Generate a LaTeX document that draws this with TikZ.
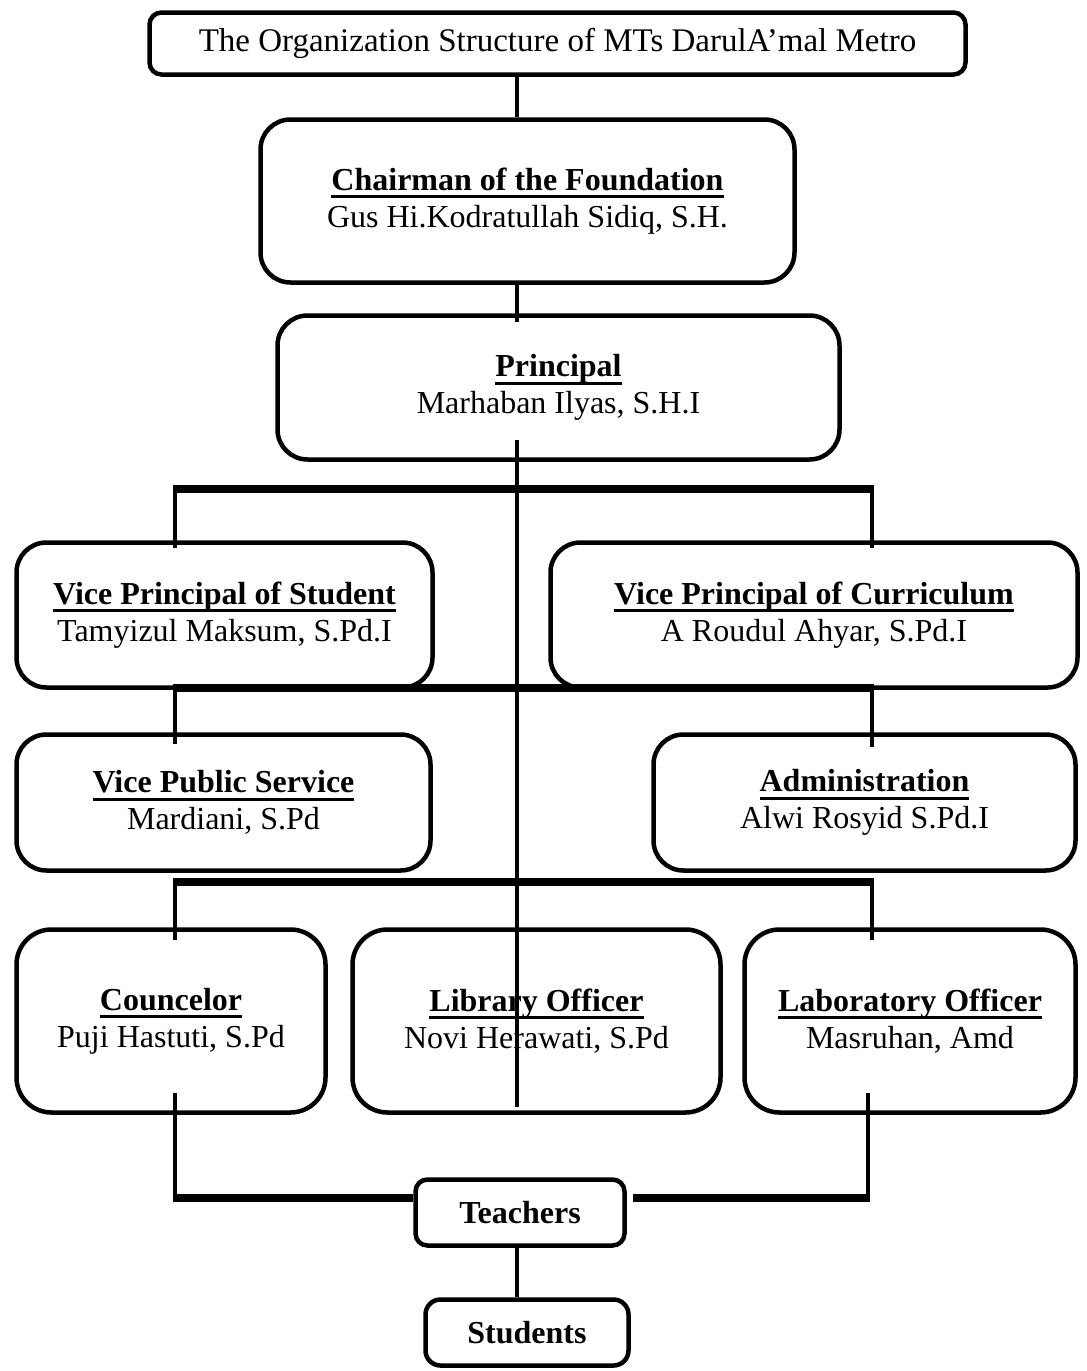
\documentclass[tikz,border=0pt]{standalone}
\usepackage{fontspec}
\setmainfont{Liberation Serif}
\newcommand\myul[1]{\setbox0\hbox{\bfseries #1}\rlap{\vrule height -5pt depth 8pt width \wd0}\box0}
\begin{document}
\begin{tikzpicture}[x=1pt,y=-1pt,
  box/.style={draw, line width=4.5pt, fill=white, rounded corners=#1, inner sep=0pt, align=center, font=\fontsize{32}{37}\selectfont},
  box/.default=30,
  conn/.style={line width=4pt},
  bar/.style={line width=8.5pt}]
\useasboundingbox (0,0) rectangle (1087,1371);
% nodes
\node[box=12, minimum width=816, minimum height=62, font=\fontsize{33}{38}\selectfont] (title) at (557.5,43.5) {The Organization Structure of MTs DarulA’mal Metro};
\node[box=30, minimum width=534, minimum height=163] (chair) at (527.5,201) {\myul{Chairman of the Foundation}\\Gus Hi.Kodratullah Sidiq, S.H.};
\node[box=30, minimum width=562, minimum height=144] (princ) at (558.5,387.5) {\myul{Principal}\\Marhaban Ilyas, S.H.I};
\node[box=30, minimum width=416, minimum height=145] (vps) at (224.5,615) {\myul{Vice Principal of Student}\\Tamyizul Maksum, S.Pd.I};
\node[box=30, minimum width=527, minimum height=145] (vpc) at (814,615) {\myul{Vice Principal of Curriculum}\\A Roudul Ahyar, S.Pd.I};
\node[box=30, minimum width=414, minimum height=136] (pub) at (223.5,802.5) {\myul{Vice Public Service}\\Mardiani, S.Pd};
\node[box=30, minimum width=422, minimum height=136] (adm) at (864.5,802.5) {\myul{Administration}\\Alwi Rosyid S.Pd.I};
\node[box=35, minimum width=309, minimum height=183] (coun) at (171,1021) {\myul{Councelor}\\Puji Hastuti, S.Pd};
\node[box=35, minimum width=368, minimum height=183] (lib) at (536.5,1021) {\myul{Library Officer}\\Novi Herawati, S.Pd};
\node[box=35, minimum width=331, minimum height=183] (lab) at (910,1021) {\myul{Laboratory Officer}\\Masruhan, Amd};
\node[box=12, minimum width=209, minimum height=66] (teach) at (520,1212.5) {\bfseries Teachers};
\node[box=15, minimum width=203, minimum height=66] (stud) at (527,1332.5) {\bfseries Students};
% coordinates
\coordinate (spine) at (517,0);
\coordinate (pTop) at (517,322);
\coordinate (sTop) at (517,440);
\coordinate (sBot) at (517,1107);
\coordinate (b1L) at (173,489); \coordinate (b1R) at (874,489);
\coordinate (v1La) at (175,489); \coordinate (v1Lb) at (175,548);
\coordinate (v1Ra) at (872,489); \coordinate (v1Rb) at (872,548);
\coordinate (b2L) at (173,688); \coordinate (b2R) at (874,688);
\coordinate (v2La) at (175,688); \coordinate (v2Lb) at (175,744);
\coordinate (v2Ra) at (872,688); \coordinate (v2Rb) at (872,747);
\coordinate (b3L) at (173,882); \coordinate (b3R) at (874,882);
\coordinate (v3La) at (175,882); \coordinate (v3Lb) at (175,940);
\coordinate (v3Ra) at (872,882); \coordinate (v3Rb) at (872,940);
\coordinate (v4La) at (175,1093); \coordinate (v4Lb) at (175,1202);
\coordinate (v4Ra) at (868,1093); \coordinate (v4Rb) at (868,1202);
\coordinate (b4L) at (173,1198); \coordinate (b4R) at (870,1198);
\coordinate (b4M) at (633,1198);
% connectors
\draw[conn] (title.south -| spine) -- (chair.north -| spine);
\draw[conn] (chair.south -| spine) -- (pTop);
\draw[conn] (sTop) -- (sBot);
\draw[bar] (b1L) -- (b1R);
\draw[conn] (v1La) -- (v1Lb);
\draw[conn] (v1Ra) -- (v1Rb);
\draw[bar] (b2L) -- (b2R);
\draw[conn] (v2La) -- (v2Lb);
\draw[conn] (v2Ra) -- (v2Rb);
\draw[bar] (b3L) -- (b3R);
\draw[conn] (v3La) -- (v3Lb);
\draw[conn] (v3Ra) -- (v3Rb);
\draw[conn] (v4La) -- (v4Lb);
\draw[conn] (v4Ra) -- (v4Rb);
\draw[bar] (b4L) -- (teach.west |- b4L);
\draw[bar] (b4M) -- (b4R);
\draw[conn] (teach.south -| spine) -- (stud.north -| spine);
\end{tikzpicture}
\end{document}
